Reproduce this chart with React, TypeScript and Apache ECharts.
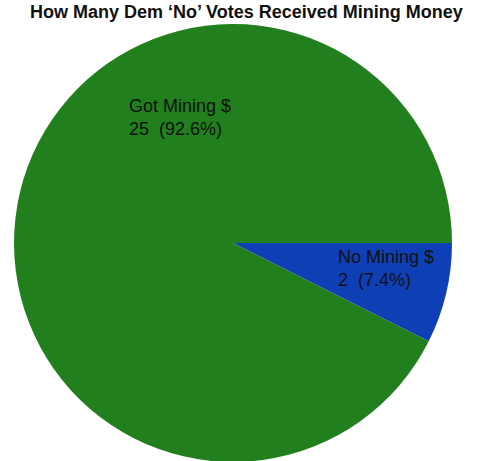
import React, { useEffect, useRef } from "react";
import * as echarts from "echarts";

const titleText = "How Many Dem \u2018No\u2019 Votes Received Mining Money";
const categories = ["No Mining $", "Got Mining $"];
const values = [2, 25];
const colors = ["#0f3fb6", "#217f1d"];

export default function App() {
  const ref = useRef<HTMLDivElement>(null);
  useEffect(() => {
    document.body.style.margin = "0";
    const chart = echarts.init(ref.current!, null, { renderer: "svg" });
    const labelPos: Record<number, [number, number]> = {
      0: [338, 245],
      1: [129, 94],
    };
    chart.setOption({
      animation: false,
      backgroundColor: "#ffffff",
      title: {
        text: titleText,
        left: 30,
        top: 3,
        padding: 0,
        textStyle: {
          fontFamily: "Liberation Sans, Arial, sans-serif",
          fontWeight: "bold",
          fontSize: 18,
          color: "#111111",
        },
      },
      series: [
        {
          type: "pie",
          center: [233, 243],
          radius: 219,
          startAngle: 0,
          clockwise: true,
          percentPrecision: 1,
          itemStyle: { borderWidth: 0 },
          data: categories.map((name, i) => ({
            name,
            value: values[i],
            itemStyle: { color: colors[i], borderWidth: 0 },
          })),
          label: {
            show: true,
            position: "inside",
            formatter: "{b}\n{c}  ({d}%)",
            fontFamily: "Liberation Sans, Arial, sans-serif",
            fontSize: 18,
            lineHeight: 23,
            color: "#111111",
            align: "left",
          },
          labelLine: { show: false },
          labelLayout: (params: any) => {
            const p = labelPos[params.dataIndex];
            return { x: p[0], y: p[1], align: "left", verticalAlign: "top" };
          },
          emphasis: { disabled: true },
        },
      ],
    });
    return () => chart.dispose();
  }, []);
  return (
    <div
      ref={ref}
      style={{ position: "absolute", left: 0, top: 0, width: 480, height: 461 }}
    />
  );
}
